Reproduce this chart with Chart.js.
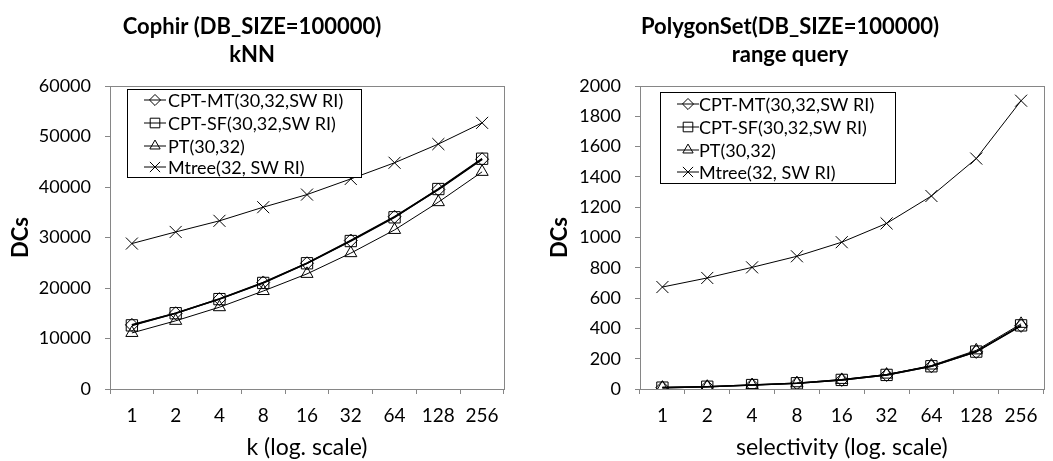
<!DOCTYPE html>
<html>
<head>
<meta charset="utf-8">
<script src="https://cdn.jsdelivr.net/npm/chart.js@4/dist/chart.umd.min.js"></script>
<style>
    body { margin: 0; background: #fff; }
    .wrap { position: absolute; top: 0; width: 530px; height: 461px; }
    #left { left: 0; }
    #right { left: 530px; width: 523px; }
</style>
</head>
<body>
<div class="wrap" id="left"><canvas id="cophirChart" width="530" height="461"></canvas></div>
<div class="wrap" id="right"><canvas id="polygonChart" width="523" height="461"></canvas></div>

<script>
// ===== DATA =====
const xLabels = ["1", "2", "4", "8", "16", "32", "64", "128", "256"];
const seriesNames = ["CPT-MT(30,32,SW RI)", "CPT-SF(30,32,SW RI)", "PT(30,32)", "Mtree(32, SW RI)"];

// Cophir, kNN
const cophirCptMt = [12700, 15000, 17800, 21100, 24900, 29400, 34100, 39500, 45500];
const cophirCptSf = [12600, 15000, 17800, 21000, 24900, 29300, 34000, 39600, 45600];
const cophirPt = [11100, 13500, 16200, 19400, 22800, 26900, 31500, 37000, 43000];
const cophirMtree = [28800, 31100, 33300, 36000, 38500, 41600, 44800, 48500, 52700];

// PolygonSet, range query
const polyCptMt = [9, 15, 26, 38, 60, 93, 150, 245, 417];
const polyCptSf = [9, 15, 26, 38, 60, 93, 150, 247, 420];
const polyPt = [9, 15, 26, 38, 60, 95, 155, 255, 430];
const polyMtree = [673, 733, 803, 876, 969, 1093, 1274, 1521, 1903];

const FONT = "Lato";
const AXIS_GREY = "#868686";

// marker style per series
const markers = [
    { pointStyle: "rectRot", radius: 6.5, lineWidth: 1.6 },
    { pointStyle: "rect", radius: 8, lineWidth: 1.6 },
    { pointStyle: "triangle", radius: 7, lineWidth: 1 },
    { pointStyle: "crossRot", radius: 8.5, lineWidth: 1 }
];

// ===== PLOT BORDER + BOXED LEGEND =====
const frameAndLegend = {
    id: "frameAndLegend",
    beforeDatasetsDraw(chart) {
        const { ctx, chartArea: a } = chart;
        ctx.save();
        ctx.strokeStyle = AXIS_GREY;
        ctx.lineWidth = 1;
        ctx.strokeRect(Math.round(a.left) + 0.5, Math.round(a.top) + 0.5,
            Math.round(a.right - a.left), Math.round(a.bottom - a.top));
        ctx.restore();
    },
    afterDatasetsDraw(chart, args, opts) {
        const ctx = chart.ctx;
        ctx.save();
        ctx.fillStyle = "#fff";
        ctx.fillRect(opts.box[0], opts.box[1], opts.box[2], opts.box[3]);
        ctx.strokeStyle = "#000";
        ctx.lineWidth = 1;
        ctx.strokeRect(opts.box[0] + 0.5, opts.box[1] + 0.5, opts.box[2], opts.box[3]);

        chart.data.datasets.forEach((ds, i) => {
            const y = opts.rows[i];
            ctx.strokeStyle = "#000";
            ctx.lineWidth = 1;
            ctx.beginPath();
            ctx.moveTo(opts.markX - 11, y);
            ctx.lineTo(opts.markX + 11, y);
            ctx.stroke();
            ctx.fillStyle = "rgba(0,0,0,0)";
            Chart.helpers.drawPoint(ctx, {
                pointStyle: markers[i].pointStyle,
                radius: markers[i].radius * 0.85,
                rotation: 0,
                borderWidth: 1
            }, opts.markX, y);

            ctx.fillStyle = "#000";
            ctx.font = "18px " + FONT;
            ctx.textBaseline = "middle";
            ctx.textAlign = "left";
            ctx.fillText(ds.label, opts.textX, y + 1);
        });
        ctx.restore();
    }
};

function makeChart(canvasId, title, xTitle, values, yMax, yStep, padRight, legendOpts) {
    const ctx = document.getElementById(canvasId).getContext("2d");

    return new Chart(ctx, {
        type: "line",
        data: {
            labels: xLabels,
            datasets: values.map((v, i) => ({
                label: seriesNames[i],
                data: v,
                borderColor: "#000",
                borderWidth: markers[i].lineWidth,
                backgroundColor: "rgba(0,0,0,0)",
                pointStyle: markers[i].pointStyle,
                pointRadius: markers[i].radius,
                pointHoverRadius: markers[i].radius,
                pointBorderColor: "#000",
                pointBackgroundColor: "rgba(0,0,0,0)",
                pointBorderWidth: 1,
                tension: 0,
                fill: false
            }))
        },
        options: {
            responsive: false,
            animation: false,
            layout: { padding: { left: 0, right: padRight, top: 0, bottom: 0 } },
            plugins: {
                legend: { display: false },
                tooltip: { enabled: false },
                title: {
                    display: true,
                    text: title,
                    color: "#000",
                    font: { family: FONT, size: 22, weight: "bold", lineHeight: 28 / 22 },
                    padding: { top: 13, bottom: 17 }
                },
                frameAndLegend: legendOpts
            },
            scales: {
                x: {
                    offset: true,
                    grid: { offset: true, drawOnChartArea: false, drawTicks: true, tickLength: 5, color: AXIS_GREY },
                    border: { color: AXIS_GREY },
                    ticks: { color: "#000", font: { family: FONT, size: 19 }, padding: 10, maxRotation: 0, autoSkip: false },
                    title: { display: true, text: xTitle, color: "#000", font: { family: FONT, size: 23 }, padding: { bottom: 0 } },
                    afterFit: (s) => { s.height = 72; }
                },
                y: {
                    min: 0,
                    max: yMax,
                    grid: { drawOnChartArea: false, drawTicks: true, tickLength: 5, color: AXIS_GREY },
                    border: { color: AXIS_GREY },
                    ticks: {
                        stepSize: yStep, color: "#000", font: { family: FONT, size: 18 }, padding: 14,
                        callback: (v) => String(v)
                    },
                    title: { display: true, text: "DCs", color: "#000", font: { family: FONT, size: 22, weight: "bold" }, padding: { top: legendOpts.yTitlePad } },
                    afterFit: (s) => { s.width = 110; }
                }
            }
        },
        plugins: [frameAndLegend]
    });
}

// ================= COPHIR kNN =================
makeChart("cophirChart",
    ["Cophir (DB_SIZE=100000)", "kNN"],
    "k (log. scale)",
    [cophirCptMt, cophirCptSf, cophirPt, cophirMtree],
    60000, 10000, 26,
    { box: [127, 89, 234, 88], rows: [100, 123, 146, 167], markX: 155, textX: 168, yTitlePad: 8 });

// ================= POLYGONSET RANGE =================
makeChart("polygonChart",
    ["PolygonSet(DB_SIZE=100000)", "range query"],
    "selectivity (log. scale)",
    [polyCptMt, polyCptSf, polyPt, polyMtree],
    2000, 200, 3,
    { box: [130, 92, 235, 91], rows: [104, 127, 150, 172], markX: 158, textX: 169, yTitlePad: 17 });
</script>
</body>
</html>
